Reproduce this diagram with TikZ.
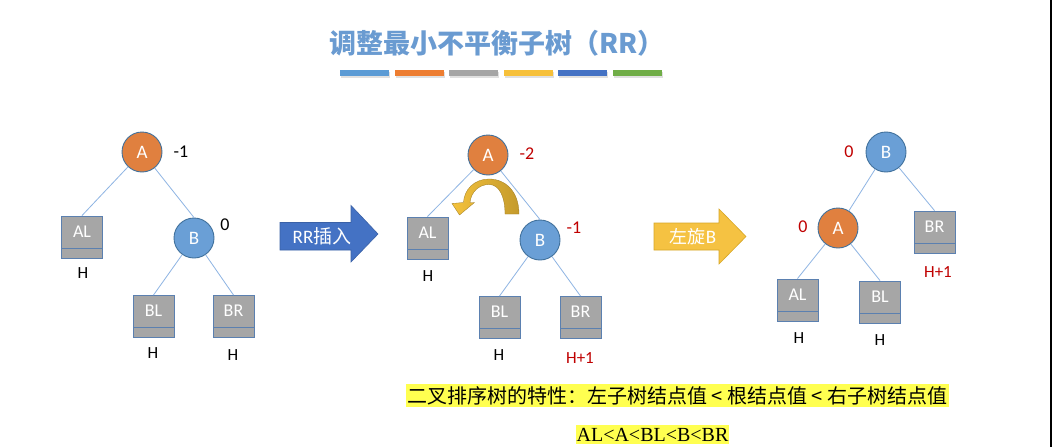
\documentclass[tikz,border=0pt]{standalone}
\usepackage{fontspec}
\setmainfont{Carlito}
\newfontfamily\cjk{Noto Sans CJK SC}
\newfontfamily\tnr{Liberation Serif}
\usetikzlibrary{arrows.meta}
\definecolor{titleblue}{RGB}{106,155,209}
\definecolor{barA}{HTML}{5B9BD5}
\definecolor{barB}{HTML}{ED7D31}
\definecolor{barC}{HTML}{A5A5A5}
\definecolor{barD}{HTML}{F6C03A}
\definecolor{barE}{HTML}{4472C4}
\definecolor{barF}{HTML}{70AD47}
\definecolor{orangeA}{HTML}{E0803F}
\definecolor{blueB}{HTML}{6A9FD6}
\definecolor{cborder}{HTML}{41719C}
\definecolor{boxgray}{HTML}{A6A6A6}
\definecolor{boxborder}{HTML}{5B80B0}
\definecolor{edgeblue}{HTML}{8EB4E3}
\definecolor{darkred}{HTML}{C00000}
\definecolor{arrowblue}{HTML}{4472C4}
\definecolor{arrowgold}{HTML}{F5C242}
\definecolor{arrowgoldborder}{HTML}{D6A728}
\definecolor{curvegold}{HTML}{F4C23C}
\definecolor{curvedark}{HTML}{C49A2C}
\definecolor{hl}{HTML}{FFFF50}
\begin{document}
\begin{tikzpicture}[x=1pt,y=-1pt,
  circA/.style={circle, draw=cborder, line width=0.9pt, fill=orangeA, minimum size=40pt, inner sep=0pt, text=white, font=\fontsize{19}{19}\selectfont},
  circB/.style={circA, fill=blueB},
  subtree/.style={rectangle, draw=boxborder, line width=0.9pt, fill=boxgray, minimum width=41pt, minimum height=42pt, inner sep=0pt, text=white, font=\fontsize{18}{18}\selectfont, text height=11.5pt, text depth=11.5pt,
    path picture={\draw[boxborder, line width=0.9pt] ([yshift=10pt]path picture bounding box.south west) -- ([yshift=10pt]path picture bounding box.south east);}},
  lab/.style={inner sep=0pt, font=\fontsize{17}{17}\selectfont},
  numlab/.style={inner sep=0pt, font=\fontsize{18}{18}\selectfont},
  redlab/.style={text=darkred},
  edge/.style={draw=edgeblue, line width=0.8pt},
  bigarrow/.style={line width=0.6pt, line join=miter},
  arrowtext/.style={inner sep=0pt, text=white, font=\fontsize{19}{19}\selectfont}
]
\useasboundingbox (0,0) rectangle (1052,447);
\fill[white] (0,0) rectangle (1052,447);
\fill[black] (1049.5,0) rectangle (1052,447);

% title
\node[inner sep=0pt, text=titleblue, font=\cjk\bfseries\fontsize{27}{27}\selectfont] (title) at (497,43) {调整最小不平衡子树（RR）};
% colour bars
\foreach \xa/\c in {340/barA, 394.5/barB, 449/barC, 503.5/barD, 558/barE, 612.5/barF}{
  \fill[black!12] (\xa+1,71.5) rectangle (\xa+50,77.5);
  \fill[\c] (\xa,70) rectangle (\xa+49,76);
}

% ---------- tree 1 ----------
\node[circA] (A1) at (142,152) {A};
\node[circB] (B1) at (194,238) {B};
\node[subtree] (AL1) at (82,237) {AL};
\node[subtree] (BL1) at (153.5,316.5) {BL};
\node[subtree] (BR1) at (233.5,316.5) {BR};
\draw[edge] (A1) -- (AL1.north);
\draw[edge] (A1) -- (B1.north);
\draw[edge] (B1) -- (BL1.north);
\draw[edge] (B1) -- (BR1.north);
\node[numlab] (bfA1) at (181,152) {-1};
\node[numlab] (bfB1) at (225,225) {0};
\node[lab] (hAL1) at (83,273) {H};
\node[lab] (hBL1) at (153,353) {H};
\node[lab] (hBR1) at (233,355) {H};

% arrow 1
\filldraw[bigarrow, fill=arrowblue, draw=arrowblue!85!black] (280,222.5) -- (351,222.5) -- (351,205.5) -- (378,234) -- (351,262) -- (351,250) -- (280,250) -- cycle;
\node[arrowtext] (ins) at (322,236) {RR{\cjk 插入}};

% ---------- tree 2 ----------
\node[circA] (A2) at (488,155) {A};
\node[circB] (B2) at (540,240) {B};
\node[subtree] (AL2) at (427.5,238) {AL};
\node[subtree] (BL2) at (499.5,317.5) {BL};
\node[subtree] (BR2) at (580.5,317.5) {BR};
\draw[edge] (A2) -- (AL2.north);
\draw[edge] (A2) -- (B2.north);
\draw[edge] (B2) -- (BL2.north);
\draw[edge] (B2) -- (BR2.north);
\node[numlab, redlab] (bfA2) at (527,154) {-2};
\node[numlab, redlab] (bfB2) at (574,228) {-1};
\node[lab] (hAL2) at (428,276) {H};
\node[lab] (hBL2) at (499,355) {H};
\node[lab, redlab] (hBR2) at (580,358) {H+1};
% rotation arrow
\shade[left color=curvegold, right color=curvedark, draw=curvedark!80!black, line width=0.3pt]
  (505,214) -- (519,214)
  .. controls (519,192) and (506,179) .. (489,179)
  .. controls (474,179) and (464,190) .. (463.5,202.5)
  -- (452,203.5) -- (459.5,215) -- (474.5,202.5) -- (470,202.5)
  .. controls (471,192) and (479,184.5) .. (489,184.5)
  .. controls (499,184.5) and (505,196) .. (505,214) -- cycle;

% arrow 2
\filldraw[bigarrow, fill=arrowgold, draw=arrowgoldborder] (654,223) -- (719,223) -- (719,209) -- (746,236.5) -- (719,264) -- (719,250) -- (654,250) -- cycle;
\node[arrowtext] (rot) at (693,237) {{\cjk\fontsize{18}{18}\selectfont 左旋}B};

% ---------- tree 3 ----------
\node[circB] (B3) at (886,152) {B};
\node[circA] (A3) at (838,228) {A};
\node[subtree] (BR3) at (934.5,232) {BR};
\node[subtree] (AL3) at (797.5,300) {AL};
\node[subtree] (BL3) at (880,302) {BL};
\draw[edge] (B3) -- (A3);
\draw[edge] (B3) -- (BR3.north);
\draw[edge] (A3) -- (AL3.north);
\draw[edge] (A3) -- (BL3.north);
\node[numlab, redlab] (bfB3) at (849,152) {0};
\node[numlab, redlab] (bfA3) at (803,227) {0};
\node[lab, redlab] (hBR3) at (938,272) {H+1};
\node[lab] (hAL3) at (799,338) {H};
\node[lab] (hBL3) at (880,340) {H};

% bottom text
\node[fill=hl, inner xsep=1pt, inner ysep=2pt, font=\cjk\fontsize{20}{20}\selectfont] (prop) at (677.5,395.5) {二叉排序树的特性：左子树结点值 < 根结点值 < 右子树结点值};
\node[fill=hl, inner xsep=1pt, inner ysep=3pt, font=\tnr\fontsize{20}{20}\selectfont, anchor=north] (order) at (652.5,425) {AL<A<BL<B<BR};
\end{tikzpicture}
\end{document}
